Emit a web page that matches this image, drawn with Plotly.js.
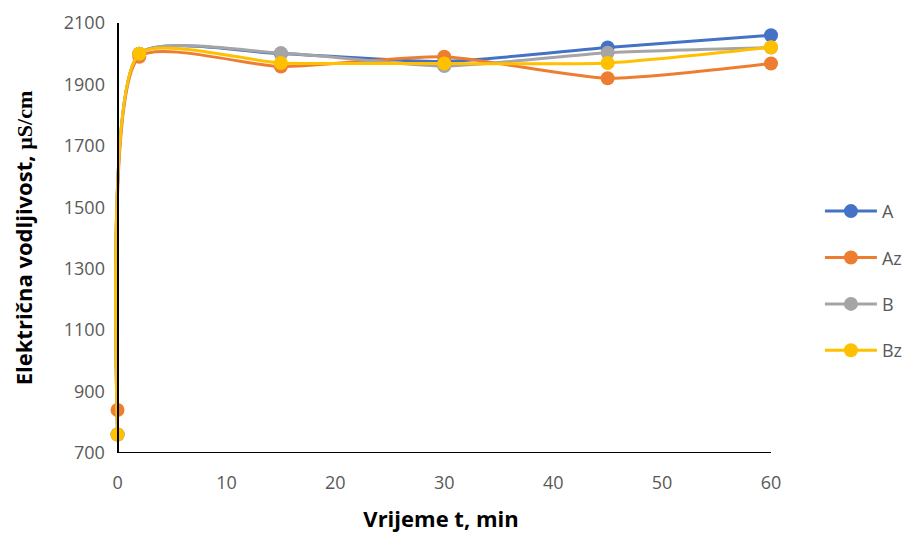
<!DOCTYPE html>
<html>
<head>
<meta charset="utf-8">
<script src="https://cdn.plot.ly/plotly-3.0.1.min.js"></script>
<style>html,body{margin:0;padding:0;background:#fff;}#chart{width:908px;height:533px;}</style>
</head>
<body>
<div id="chart"></div>
<script>
const time = [0, 2, 15, 30, 45, 60];
const seriesNames = ["A", "Az", "B", "Bz"];
const valuesA  = [760, 2000, 2000, 1975, 2020, 2060];
const valuesAz = [840, 1990, 1958, 1990, 1920, 1968];
const valuesB  = [760, 2000, 2002, 1960, 2003, 2020];
const valuesBz = [760, 2000, 1970, 1968, 1970, 2021];
const xTicks = [0, 10, 20, 30, 40, 50, 60];
const yTicks = [700, 900, 1100, 1300, 1500, 1700, 1900, 2100];
const colors = ["#4472C4", "#ED7D31", "#A5A5A5", "#FFC000"];

const xMin = -0.6, xMax = 60;
const allValues = [valuesA, valuesAz, valuesB, valuesBz];
const traces = allValues.map((v, i) => ({
  x: time, y: v, name: seriesNames[i], type: "scatter", mode: "lines+markers",
  legendgroup: "g" + i, cliponaxis: false,
  line: {color: colors[i], width: 3, shape: "spline", smoothing: 0.6},
  marker: {color: colors[i], size: 14}
}));

const layout = {
  width: 908, height: 533,
  margin: {l: 110.5, r: 137, t: 23, b: 80},
  paper_bgcolor: "#fff", plot_bgcolor: "#fff",
  font: {family: "Open Sans, sans-serif", color: "#595959", size: 18},
  xaxis: {
    range: [xMin, xMax], tickvals: xTicks, ticktext: xTicks.map(String),
    showgrid: false, zeroline: false, showline: false,
    ticks: "outside", ticklen: 13, tickcolor: "rgba(0,0,0,0)",
    tickfont: {size: 18, color: "#595959"},
    title: {text: "<b>Vrijeme t, min</b>", font: {size: 22, color: "#000"}, standoff: 20}
  },
  yaxis: {
    range: [700, 2100], tickvals: yTicks, ticktext: yTicks.map(String),
    anchor: "free", position: (0 - xMin) / (xMax - xMin),
    showgrid: false, zeroline: false, showline: true, linecolor: "#000", linewidth: 2,
    ticks: "outside", ticklen: 8, tickcolor: "rgba(0,0,0,0)",
    tickfont: {size: 18, color: "#595959"},
    title: {text: "<b>Električna vodljivost, <span style=\"font-family:'Liberation Serif',serif\">µS/cm</span></b>", font: {size: 22, color: "#000"}, standoff: 24}
  },
  shapes: [{type: "line", xref: "x", yref: "y", x0: 0, x1: xMax, y0: 700, y1: 700,
            line: {color: "#000", width: 2}, layer: "below"}],
  legend: {
    xref: "container", yref: "container",
    x: 0.903, y: 0.473, xanchor: "left", yanchor: "middle",
    font: {size: 18, color: "#595959"}, tracegroupgap: 20,
    itemwidth: 52, bgcolor: "rgba(0,0,0,0)"
  },
  showlegend: true
};

Plotly.newPlot("chart", traces, layout, {displayModeBar: false, staticPlot: true});
</script>
</body>
</html>
